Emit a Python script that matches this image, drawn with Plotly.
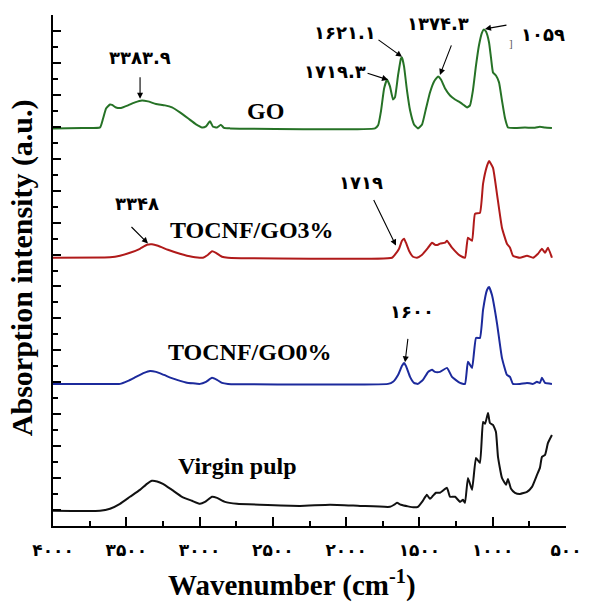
import numpy as np
import plotly.graph_objects as go

# ---------------- data ----------------
wn_go = [4000, 3800, 3679, 3659, 3638, 3611, 3597, 3570, 3536, 3488, 3441, 3393, 3352, 3297, 3236, 3188,
         3134, 3079, 3024, 2983, 2956, 2929, 2908, 2881, 2854, 2833, 2792, 1803, 1782, 1762, 1741, 1721,
         1701, 1680, 1667, 1646, 1626, 1619, 1605, 1585, 1564, 1537, 1510, 1482, 1455, 1428, 1400, 1373,
         1353, 1325, 1291, 1257, 1223, 1203, 1175, 1155, 1135, 1114, 1094, 1073, 1060, 1046, 1025, 1012,
         998, 978, 957, 937, 916, 896, 848, 780, 711, 678, 644, 596]
int_go = [0, 0.02, 0.06, 0.6, 1.25, 1.5, 1.47, 1.31, 1.28, 1.44, 1.63, 1.75, 1.69, 1.53, 1.44, 1.31,
          1.0, 0.63, 0.25, 0.06, 0.13, 0.44, 0.1, 0.06, 0.22, 0.03, 0, 0, 0.19, 1.1, 2.5, 3.06,
          2.63, 1.81, 1.94, 3.31, 4.38, 4.44, 3.88, 2.38, 1.13, 0.25, 0, 0.25, 1.25, 2.25, 2.94, 3.25,
          3.06, 2.5, 2.06, 1.81, 1.63, 1.5, 1.31, 1.44, 2.38, 3.94, 5.19, 6.0, 6.19, 6.06, 5.38, 4.44,
          3.5, 3.31, 2.88, 1.75, 0.63, 0.06, 0.03, 0.05, 0.04, 0.1, 0.05, 0.02]

wn_go3 = [4000, 3650, 3611, 3543, 3475, 3407, 3359, 3325, 3284, 3216, 3134, 3052, 2977, 2942, 2915, 2888,
          2847, 2806, 1687, 1667, 1639, 1619, 1605, 1592, 1571, 1544, 1517, 1482, 1441, 1414, 1394, 1373,
          1360, 1325, 1312, 1278, 1223, 1189, 1169, 1141, 1121, 1087, 1066, 1039, 1025, 998, 971, 937,
          903, 882, 862, 814, 766, 725, 691, 664, 643, 623, 596]
int_go3 = [0, 0.02, 0.03, 0.13, 0.31, 0.56, 0.81, 0.84, 0.75, 0.5, 0.25, 0.06, 0, 0.19, 0.41, 0.31,
           0.06, 0, 0, 0.19, 0.56, 1.06, 1.19, 0.94, 0.44, 0.06, 0, 0.19, 0.63, 0.94, 0.81, 0.81,
           0.88, 0.94, 1.06, 0.63, 0.13, 0, 1.25, 1.06, 2.75, 2.81, 4.63, 5.75, 6.06, 5.63, 4.0, 1.88,
           0.88, 0.63, 0.13, 0, 0.13, 0, 0.25, 0.56, 0.31, 0.63, 0]

wn_go0 = [4000, 3560, 3543, 3488, 3434, 3379, 3338, 3297, 3243, 3174, 3093, 2997, 2956, 2915, 2881, 2847,
          2806, 1714, 1680, 1646, 1619, 1605, 1592, 1564, 1537, 1510, 1476, 1441, 1414, 1394, 1360, 1312,
          1278, 1223, 1189, 1169, 1141, 1114, 1087, 1066, 1039, 1025, 1005, 971, 937, 903, 882, 862,
          814, 766, 725, 698, 678, 664, 643, 596]
int_go0 = [0, 0, 0, 0.19, 0.44, 0.69, 0.81, 0.75, 0.56, 0.31, 0.09, 0, 0.13, 0.38, 0.25, 0.06,
           0, 0, 0.13, 0.56, 1.13, 1.31, 1.13, 0.44, 0.06, 0, 0.25, 0.75, 0.88, 0.75, 0.75, 1.0,
           0.44, 0.06, 0, 1.38, 1.0, 2.88, 2.88, 4.63, 5.88, 6.06, 5.56, 3.81, 1.63, 0.56, 0.44, 0,
           0, 0.06, 0, 0.13, 0.06, 0.38, 0.06, 0]

wn_pulp = [4000, 3679, 3611, 3543, 3475, 3407, 3359, 3325, 3290, 3250, 3188, 3120, 3052, 2997, 2963, 2915,
           2881, 2827, 2745, 2588, 2315, 2110, 1905, 1701, 1673, 1653, 1626, 1578, 1537, 1510, 1482, 1449,
           1428, 1408, 1387, 1360, 1312, 1291, 1257, 1223, 1203, 1189, 1169, 1141, 1114, 1087, 1066, 1052,
           1032, 1019, 998, 978, 964, 937, 909, 896, 875, 848, 814, 766, 732, 698, 678, 664, 643, 623, 596]
int_pulp = [0, 0, 0.13, 0.44, 0.88, 1.31, 1.69, 1.88, 1.84, 1.69, 1.31, 0.88, 0.63, 0.44, 0.56, 0.88,
            0.81, 0.56, 0.44, 0.38, 0.31, 0.38, 0.31, 0.25, 0.38, 0.5, 0.38, 0.28, 0.22, 0.25, 0.56, 1.0,
            0.75, 0.94, 1.13, 1.13, 1.44, 0.88, 0.88, 0.56, 0.69, 0.5, 2.06, 1.31, 3.31, 3.0, 5.56, 5.45,
            6.13, 5.5, 5.38, 4.94, 3.38, 2.06, 1.63, 2.0, 1.38, 1.13, 1.06, 1.19, 1.5, 2.25, 2.69, 3.38, 3.5, 4.25, 4.75]

series_names = ["Virgin pulp", "TOCNF/GO0%", "TOCNF/GO3%", "GO"]
stack_offsets = [0.95, 8.9, 16.8, 24.9]

x_tick_values = [4000, 3500, 3000, 2500, 2000, 1500, 1000, 500]
x_tick_labels = ["۴۰۰۰", "۳۵۰۰", "۳۰۰۰", "۲۵۰۰", "۲۰۰۰", "۱۵۰۰", "۱۰۰۰", "۵۰۰"]

# ---------------- figure ----------------
colors = ["#111111", "#1c2a9c", "#b01a1a", "#267226"]
all_wn = [wn_pulp, wn_go0, wn_go3, wn_go]
all_int = [int_pulp, int_go0, int_go3, int_go]

fig = go.Figure()
for name, wn, inten, off, col in zip(series_names, all_wn, all_int, stack_offsets, colors):
    fig.add_trace(go.Scatter(
        x=wn, y=np.array(inten) + off, mode="lines", name=name,
        line=dict(color=col, width=2, shape="spline", smoothing=0.4),
        showlegend=False))

serif = "Liberation Serif, Times New Roman, serif"
digits_font = "DejaVu Sans, Liberation Serif, sans-serif"

# series labels
label_pos = [(2738, 3.75), (2656, 10.88), (2642, 18.56), (2547, 26.0)]
for name, (lx, ly) in zip(series_names, label_pos):
    fig.add_annotation(x=lx, y=ly, text=name, showarrow=False,
                       font=dict(family=serif, size=24, color="black", weight="bold"))

# peak annotations: text
peak_texts = [
    ("۳۳۸۳.۹", 3406, 29.31), ("۱۷۱۹.۳", 2076, 28.44), ("۱۶۲۱.۱", 2008, 30.88),
    ("۱۳۷۴.۳", 1373, 31.44), ("۱۰۵۹", 657, 30.81), ("۳۳۴۸", 3427, 20.19),
    ("۱۷۱۹", 1899, 21.5), ("۱۶۰۰", 1551, 13.44),
]
for t, tx, ty in peak_texts:
    fig.add_annotation(x=tx, y=ty, text=t, showarrow=False,
                       font=dict(family=digits_font, size=18, color="black", weight="bold"))
fig.add_annotation(x=875, y=30.25, text="]", showarrow=False,
                   font=dict(family=serif, size=11, color="#555555"))

# arrows (tip in data coords, tail offset in pixels)
arrows = [
    (3406, 26.75, 0, -23), (1714, 27.94, -22, -7), (1619, 29.38, -25, -18),
    (1360, 28.25, 12, -31), (1053, 31.13, 23, -4), (3352, 17.69, -18, -18),
    (1660, 17.56, -23, -47), (1598, 10.25, 3, -25),
]
for ax_, ay_, dx, dy in arrows:
    fig.add_annotation(x=ax_, y=ay_, text="", showarrow=True, ax=dx, ay=dy,
                       arrowhead=2, arrowsize=1.1, arrowwidth=1.1, arrowcolor="black")

# axis titles
fig.add_annotation(xref="paper", yref="paper", x=0.465, y=-0.112, yanchor="middle",
                   text="Wavenumber (cm<sup>-1</sup>)", showarrow=False,
                   font=dict(family=serif, size=29, color="black", weight="bold"))
fig.add_annotation(xref="paper", yref="paper", x=-0.06, y=0.505, xanchor="center",
                   text="Absorption intensity (a.u.)", showarrow=False, textangle=-90,
                   font=dict(family=serif, size=30, color="black", weight="bold"))

fig.update_xaxes(
    range=[4000, 500], showline=True, linewidth=2, linecolor="black", mirror=False,
    automargin=False,
    showgrid=False, zeroline=False, ticks="inside", ticklen=9, tickwidth=2, tickcolor="black",
    tickvals=x_tick_values, ticktext=x_tick_labels, ticklabelstandoff=8,
    tickfont=dict(family=digits_font, size=17, color="black", weight="bold"),
    minor=dict(tickvals=[3750, 3250, 2750, 2250, 1750, 1250, 750], ticks="inside",
               ticklen=5, tickwidth=2, tickcolor="black"),
)
fig.update_yaxes(
    range=[0, 32], showline=True, linewidth=2, linecolor="black", mirror=False,
    automargin=False,
    showgrid=False, zeroline=False, ticks="inside", ticklen=8, tickwidth=2, tickcolor="black",
    tickvals=list(range(1, 32, 2)), showticklabels=False,
    minor=dict(tickvals=list(range(0, 33, 2)), ticks="inside", ticklen=4.5, tickwidth=2,
               tickcolor="black"),
)

fig.update_layout(
    width=589, height=606, margin=dict(l=53, r=23, t=15, b=80, autoexpand=False),
    plot_bgcolor="white", paper_bgcolor="white", showlegend=False,
)

fig.write_html("out.html")
